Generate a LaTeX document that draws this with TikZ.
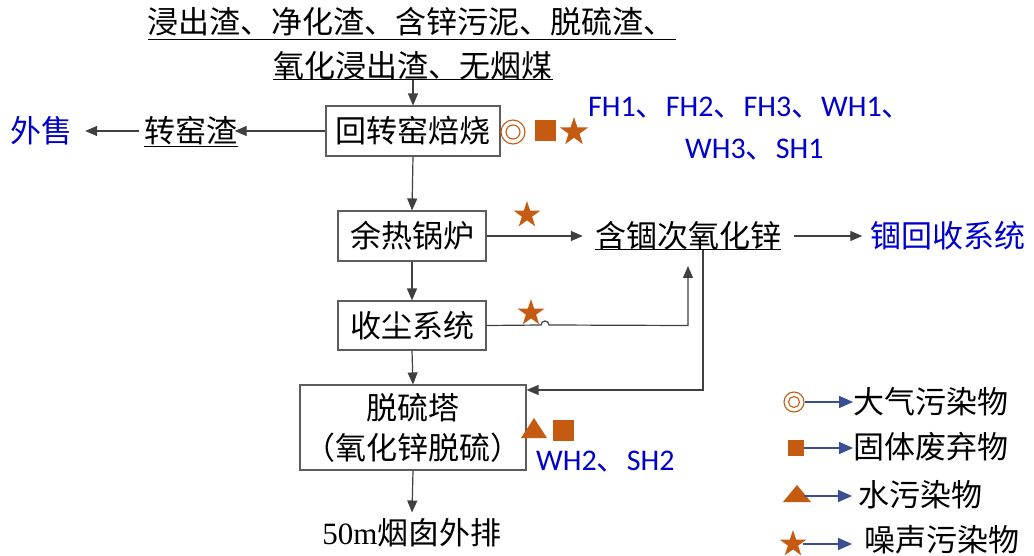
\documentclass[tikz,border=0pt]{standalone}
\usepackage{fontspec}
\setmainfont{Liberation Serif}
\newfontfamily\cjk{Noto Sans CJK SC}
\newfontfamily\lat{Carlito}
\usetikzlibrary{shapes.geometric,arrows.meta}
\definecolor{arr}{HTML}{404040}
\definecolor{org}{HTML}{C55A11}
\definecolor{blu}{HTML}{0000CC}
\definecolor{legb}{HTML}{3B4E94}
\tikzset{
  txt/.style={inner sep=0pt, font=\cjk\fontsize{31}{36}\selectfont},
  btxt/.style={inner sep=0pt, text=blu, font=\lat\fontsize{30}{32}\selectfont},
  box/.style={draw=arr!85, line width=1.1pt, fill=white, inner sep=0pt, font=\cjk\fontsize{31}{40}\selectfont, align=center},
  arw/.style={draw=arr, line width=1.2pt, -{Triangle[length=12pt,width=10pt]}},
  larw/.style={draw=legb, line width=1.5pt, -{Triangle[length=14pt,width=12pt]}},
  uline/.style={draw=black, line width=1pt},
  starsym/.style={star, star points=5, star point ratio=2.6, minimum size=#1, inner sep=0pt, fill=org},
  sqsym/.style={rectangle, minimum size=#1, inner sep=0pt, fill=org},
}
\begin{document}
\begin{tikzpicture}[x=1pt,y=-1pt]
\useasboundingbox (0,0) rectangle (1034,556);
% top inputs
\node[txt] (t1) at (411,22) {浸出渣、净化渣、含锌污泥、脱硫渣、};
\node[txt] (t2) at (413,66) {氧化浸出渣、无烟煤};
\draw[uline] (148,40) -- (676,40);
\draw[uline] (t2.west |- 0,80) -- (t2.east |- 0,80);
\coordinate (t2b) at (413,80);
% boxes
\node[box, minimum width=174, minimum height=50] (b1) at (413,131) {回转窑焙烧};
\node[box, minimum width=148, minimum height=50] (b2) at (412,236) {余热锅炉};
\node[box, minimum width=148, minimum height=49] (b3) at (412,325.5) {收尘系统};
\node[box, minimum width=226, minimum height=85] (b4) at (413,427.5) {脱硫塔\\（氧化锌脱硫）};
% side texts
\node[txt] (zy) at (191,131) {转窑渣};
\draw[uline] (zy.west |- 0,147) -- (zy.east |- 0,147);
\node[txt, text=blu] (ws) at (41,131) {外售};
\node[txt] (zn) at (688,236) {含锢次氧化锌};
\draw[uline] (zn.west |- 0,250) -- (zn.east |- 0,250);
\node[txt, text=blu] (hs) at (948,236) {锢回收系统};
\node[inner sep=0pt, font=\fontsize{31}{36}\selectfont] (yc) at (412,533) {50m{\cjk 烟囱外排}};
% blue codes
\node[btxt, anchor=west] (fh) at (588,108) {FH1{\cjk 、}FH2{\cjk 、}FH3{\cjk 、}WH1{\cjk 、}};
\node[btxt, anchor=west] (wh) at (685,150) {WH3{\cjk 、}SH1};
\node[btxt, anchor=west] (wh2) at (536,462) {WH2{\cjk 、}SH2};
% connectors
\draw[arw] (t2b) -- (b1.north);
\draw[arw] (b1.west) -- ([xshift=-3pt]zy.east);
\draw[arw] ([xshift=-5pt]zy.west) -- ([xshift=13pt]ws.east);
\draw[arw] (b1.south) -- (b2.north);
\draw[arw] (b2.east) -- ([xshift=-12pt]zn.west);
\draw[arw] ([xshift=13pt]zn.east) -- ([xshift=-8pt]hs.west);
\draw[arw] (b2.south) -- (b3.north);
\coordinate (up) at (688,266);
\draw[arw] (b3.east) -- (541,325) arc (180:360:4) -- (up |- b3.east) -- (up);
\coordinate (zdn) at (703,250);
\draw[arw] (zdn) -- (703,390) -- (b4.east |- 0,390);
\draw[arw] (b3.south) -- (b4.north);
\draw[arw] (b4.south) -- ([yshift=6pt]yc.north);
% pollutant icons
\node[draw=org, line width=1.1pt, circle, minimum size=24, inner sep=0pt] (c1) at (513,132) {};
\node[draw=org, line width=1.1pt, circle, minimum size=14, inner sep=0pt] (c1i) at (513,132) {};
\node[sqsym=21] (s1) at (545,131) {};
\node[starsym=30] (st1) at (574,132) {};
\node[starsym=28] (st2) at (527,215) {};
\node[starsym=28] (st3) at (531,313) {};
\fill[org] (534,418) -- (547,438) -- (521,438) -- cycle;
\node[sqsym=21] (s2) at (563,430) {};
% legend
\node[draw=org, line width=1.1pt, circle, minimum size=20, inner sep=0pt] (lc) at (794,402) {};
\node[draw=org, line width=1.1pt, circle, minimum size=11, inner sep=0pt] (lci) at (794,402) {};
\node[txt, anchor=west] (l1) at (853,402) {大气污染物};
\draw[larw] (lc.east) -- (l1.west);
\node[sqsym=16] (ls) at (796,448) {};
\node[txt, anchor=west] (l2) at (853,447) {固体废弃物};
\draw[larw] (ls.east) -- (l2.west |- ls.east);
\fill[org] (797,485) -- (811,502) -- (783,502) -- cycle;
\coordinate (lt) at (804,496);
\node[txt, anchor=west] (l3) at (858,495) {水污染物};
\draw[larw] (lt) -- (852,496);
\node[starsym=28] (lst) at (793,544) {};
\node[txt, anchor=west] (l4) at (864,540) {噪声污染物};
\draw[larw] (lst.center) ++(10,0) -- (852,544);
\end{tikzpicture}
\end{document}
